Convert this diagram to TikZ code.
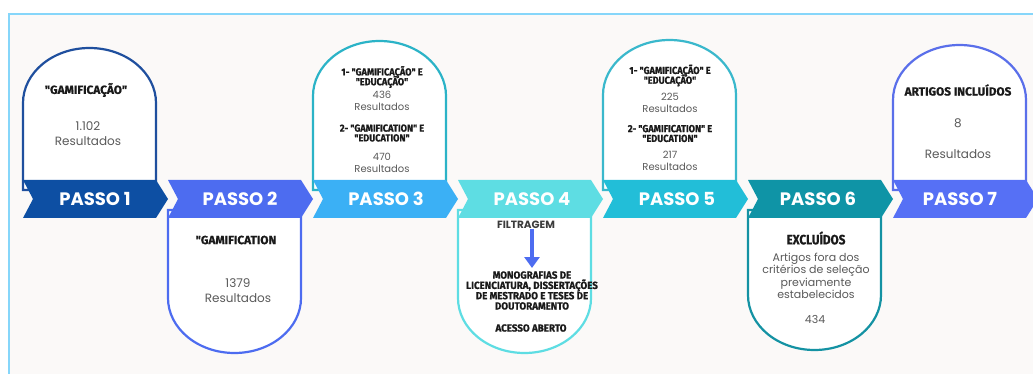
\documentclass[tikz,border=0pt]{standalone}
\usepackage{fontspec}
\setmainfont{Poppins}
\newfontfamily\passofont{Poppins}
\newfontfamily\condfont[FakeBold=0.8]{Fira Sans}
\newfontfamily\condfontm[FakeStretch=0.87,FakeBold=0.8]{Fira Sans}
\newfontfamily\condfontn[FakeStretch=0.9,FakeBold=0.8]{Fira Sans}
\newfontfamily\condfonto[FakeStretch=0.95,FakeBold=0.8]{Fira Sans}
\usetikzlibrary{arrows.meta}
\definecolor{bgc}{HTML}{FBF9F8}
\definecolor{frame}{HTML}{86D6FA}
\definecolor{cA}{HTML}{0D4FA3}
\definecolor{cB}{HTML}{4D6CF0}
\definecolor{cC}{HTML}{3BB0F5}
\definecolor{cD}{HTML}{5EDDE3}
\definecolor{cE}{HTML}{22BED8}
\definecolor{cF}{HTML}{0F94A6}
\definecolor{cG}{HTML}{5670F5}
\definecolor{aA}{HTML}{1F4F9E}
\definecolor{aC}{HTML}{2BB3C7}
\definecolor{aE}{HTML}{3AB8CC}
\definecolor{aF}{HTML}{1492A3}
\definecolor{aG}{HTML}{5A6FEA}
\definecolor{txt}{HTML}{1A1A1A}
\definecolor{gtxt}{HTML}{5A5A5A}
% top arch: #1 colour, #2 left, #3 right, #4 top y, #5 ry
\newcommand\toparch[5]{%
  \pgfmathsetmacro\cxx{(#2+#3)/2}\pgfmathsetmacro\rxx{(#3-#2)/2}%
  \pgfmathsetmacro\yvv{#4+#5}%
  \draw[archline, draw=#1] (#2,190) -- (#2,\yvv)
    .. controls (#2,\yvv-0.5523*#5) and (\cxx-0.5523*\rxx,#4) .. (\cxx,#4)
    .. controls (\cxx+0.5523*\rxx,#4) and (#3,\yvv-0.5523*#5) .. (#3,\yvv)
    -- (#3,190) -- cycle;}
% bottom arch: #1 colour, #2 left, #3 right, #4 bottom y, #5 ry
\newcommand\botarch[5]{%
  \pgfmathsetmacro\cxx{(#2+#3)/2}\pgfmathsetmacro\rxx{(#3-#2)/2}%
  \pgfmathsetmacro\yvv{#4-#5}%
  \draw[archline, draw=#1] (#2,210) -- (#2,\yvv)
    .. controls (#2,\yvv+0.5523*#5) and (\cxx-0.5523*\rxx,#4) .. (\cxx,#4)
    .. controls (\cxx+0.5523*\rxx,#4) and (#3,\yvv+0.5523*#5) .. (#3,\yvv)
    -- (#3,210) -- cycle;}
% chevron: #1 colour, #2 left x
\newcommand\chev[2]{%
  \fill[#1] (#2,180) -- (#2+133,180) -- (#2+145,199) -- (#2+133,218)
    -- (#2,218) -- (#2+10,199) -- cycle;}
\begin{document}
\lineskiplimit=-100pt
\begin{tikzpicture}[x=1pt,y=-1pt,
  archline/.style={line width=2.2pt, fill=white},
  passo/.style={font=\passofont\bfseries\fontsize{18}{18}\selectfont, text=white, inner sep=0pt},
  hdr/.style={font=\condfont\bfseries\fontsize{11.8}{11.8}\selectfont, text=txt, align=center, inner sep=0pt},
  hdrs/.style={font=\condfontn\bfseries\fontsize{10.2}{9.8}\selectfont, text=txt, align=center, inner sep=0pt},
  mono/.style={font=\condfonto\bfseries\fontsize{10.3}{10.3}\selectfont, text=txt, align=center, inner sep=0pt},
  num/.style={font=\fontsize{12}{15}\selectfont, text=gtxt, align=center, inner sep=0pt},
  nums/.style={font=\fontsize{10}{12}\selectfont, text=gtxt, align=center, inner sep=0pt},
  numm/.style={font=\fontsize{11}{12.3}\selectfont, text=gtxt, align=center, inner sep=0pt},
  flow/.style={draw=cB, line width=3.8pt, -{Triangle[width=15pt,length=11pt]}}
]
\path[use as bounding box] (0,0) rectangle (1033,374);
\fill[white] (0,0) rectangle (1033,374);
\fill[bgc] (9,14) rectangle (1033,374);
\draw[frame, line width=1.6pt] (9,374) -- (9,14) -- (1033,14);

% arches
\toparch{aA}{23}{156}{48}{55}
\botarch{cB}{168}{301}{353}{55}
\toparch{aC}{313}{446}{41}{55}
\botarch{cD}{458}{591}{353}{55}
\toparch{aE}{603}{736}{40}{55}
\botarch{aF}{748}{881}{350}{55}
\toparch{aG}{893}{1026}{45}{55}

% chevrons
\chev{cA}{23}
\chev{cB}{168}
\chev{cC}{313}
\chev{cD}{458}
\chev{cE}{603}
\chev{cF}{748}
\chev{cG}{893}

% labels
\node[passo] (p1) at (95,199) {PASSO 1};
\node[passo] (p2) at (240,199) {PASSO 2};
\node[passo] (p3) at (386,199) {PASSO 3};
\node[passo] (p4) at (532,199) {PASSO 4};
\node[passo] (p5) at (677,199) {PASSO 5};
\node[passo] (p6) at (818,199) {PASSO 6};
\node[passo] (p7) at (960,199) {PASSO 7};

% passo 1
\node[hdr] (h1) at (86,90) {"GAMIFICAÇÃO"};
\node[num] (n1) at (88,134) {1.102\\Resultados};
% passo 2
\node[hdr] (h2) at (236,240) {"GAMIFICATION};
\node[num] (n2) at (238,290.5) {1379\\Resultados};
% passo 3
\node[hdrs] (h3a) at (382,77) {1- "GAMIFICAÇÃO" E\\"EDUCAÇÃO"};
\node[nums] (n3a) at (382,101) {436\\Resultados};
\node[hdrs] (h3b) at (382,133) {2- "GAMIFICATION" E\\"EDUCATION"};
\node[nums] (n3b) at (382,163) {470\\Resultados};
% passo 4
\node[font=\passofont\bfseries\fontsize{10.5}{10.5}\selectfont, text=txt!85, inner sep=0pt] (filt) at (526,225) {FILTRAGEM};
\node[mono] (mono) at (532,290.5) {MONOGRAFIAS DE\\LICENCIATURA, DISSERTAÇÕES\\DE MESTRADO E TESES DE\\DOUTORAMENTO};
\node[mono] (acesso) at (531,328) {ACESSO ABERTO};
\coordinate (ae) at (532,268);
\draw[flow] (filt.south -| ae) -- (ae);
% passo 5
\node[hdrs] (h5a) at (670,75.5) {1- "GAMIFICAÇÃO" E\\"EDUCAÇÃO"};
\node[nums] (n5a) at (670,103) {225\\Resultados};
\node[hdrs] (h5b) at (670,133.5) {2- "GAMIFICATION" E\\"EDUCATION"};
\node[nums] (n5b) at (670,161) {217\\Resultados};
% passo 6
\node[font=\condfontm\bfseries\fontsize{13.5}{13.5}\selectfont, text=txt, inner sep=0pt] (h6) at (816,238) {EXCLUÍDOS};
\node[numm] (n6) at (816,275.7) {Artigos fora dos\\critérios de seleção\\previamente\\estabelecidos};
\node[numm] (n6b) at (815,319) {434};
% passo 7
\node[hdr] (h7) at (958,90) {ARTIGOS INCLUÍDOS};
\node[num] (n7a) at (958,123) {8};
\node[num] (n7b) at (958,154) {Resultados};
\end{tikzpicture}
\end{document}
